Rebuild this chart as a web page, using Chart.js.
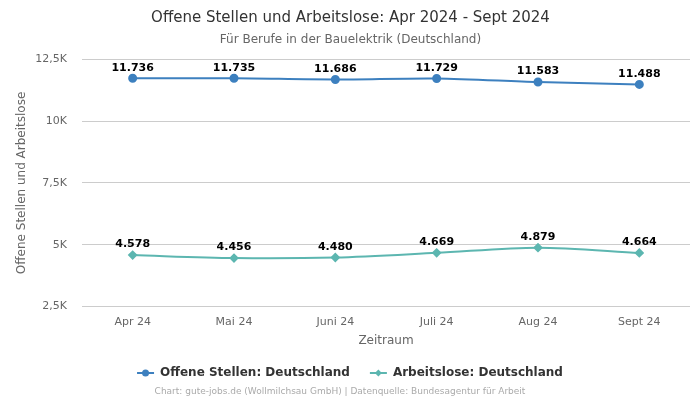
<!DOCTYPE html>
<html><head><meta charset="utf-8">
<script src="https://cdn.jsdelivr.net/npm/chart.js@4"></script>
<style>html,body{margin:0;padding:0;background:#fff}</style>
</head><body><canvas id="c" width="700" height="400"></canvas>
<script>
const categories = ["Apr 24","Mai 24","Juni 24","Juli 24","Aug 24","Sept 24"];
const offeneStellen = [11736,11735,11686,11729,11583,11488];
const arbeitslose = [4578,4456,4480,4669,4879,4664];
const yTicks = [2500,5000,7500,10000,12500];
const yTickLabels = ["2,5K","5K","7,5K","10K","12,5K"];
const seriesNames = ["Offene Stellen: Deutschland","Arbeitslose: Deutschland"];
const colors = ["#3d80bf","#5cb6b0"];
const markerStyles = ["circle","rectRot"];

const fmt = v => v.toLocaleString('de-DE');

const labelPlugin={id:'lbl',afterDatasetsDraw(chart){
  const ctx=chart.ctx;ctx.save();ctx.font='bold 11px "DejaVu Sans"';ctx.fillStyle='#000';ctx.textAlign='center';ctx.textBaseline='bottom';
  chart.data.datasets.forEach((ds,i)=>{chart.getDatasetMeta(i).data.forEach((p,j)=>{ctx.fillText(fmt(ds.data[j]),p.x,p.y-5);});});
  ctx.restore();
}};
const legendPlugin={id:'customLegend',afterDraw(chart){
  const ctx=chart.ctx;ctx.save();ctx.font='bold 12px "DejaVu Sans"';ctx.textBaseline='middle';
  const iconW=17, gap=6, itemGap=20, y=373;
  const ds=chart.data.datasets;
  const widths=ds.map(d=>iconW+gap+ctx.measureText(d.label).width);
  const total=widths.reduce((a,b)=>a+b,0)+itemGap*(ds.length-1);
  let x=(chart.width-total)/2;
  ds.forEach((d,i)=>{
    ctx.strokeStyle=d.borderColor;ctx.lineWidth=2;ctx.beginPath();ctx.moveTo(x,y);ctx.lineTo(x+iconW,y);ctx.stroke();
    ctx.fillStyle=d.borderColor;ctx.beginPath();const cx=x+iconW/2;
    if(d.pointStyle==='circle'){ctx.arc(cx,y,3.5,0,Math.PI*2);}else{ctx.moveTo(cx,y-3.5);ctx.lineTo(cx+3.5,y);ctx.lineTo(cx,y+3.5);ctx.lineTo(cx-3.5,y);ctx.closePath();}
    ctx.fill();
    ctx.fillStyle='#333';ctx.textAlign='left';ctx.fillText(d.label,x+iconW+gap,y);
    x+=widths[i]+itemGap;
  });
  ctx.font='9px "DejaVu Sans"';ctx.fillStyle='#aaa';ctx.textAlign='center';
  ctx.fillText('Chart: gute-jobs.de (Wollmilchsau GmbH) | Datenquelle: Bundesagentur für Arbeit',340,392);
  ctx.restore();
}};

new Chart(document.getElementById('c'),{
  type:'line',
  data:{labels:categories,datasets:[
    {label:seriesNames[0],data:offeneStellen,borderColor:colors[0],backgroundColor:colors[0],borderWidth:2,pointStyle:markerStyles[0],pointRadius:3.5,pointHoverRadius:3.5,tension:0.3},
    {label:seriesNames[1],data:arbeitslose,borderColor:colors[1],backgroundColor:colors[1],borderWidth:2,pointStyle:markerStyles[1],pointRadius:3.5,pointHoverRadius:3.5,tension:0.3}
  ]},
  options:{responsive:false,animation:false,devicePixelRatio:1,
    layout:{padding:{left:11,right:10,top:0,bottom:48}},
    plugins:{
      title:{display:true,text:'Offene Stellen und Arbeitslose: Apr 2024 - Sept 2024',color:'#333',font:{family:'DejaVu Sans',size:15,weight:'normal'},padding:{top:9,bottom:6}},
      subtitle:{display:true,text:'Für Berufe in der Bauelektrik (Deutschland)',color:'#666',font:{family:'DejaVu Sans',size:12},padding:{bottom:12}},
      legend:{display:false},
      tooltip:{enabled:false}
    },
    scales:{
      x:{offset:true,grid:{display:false},border:{display:false},ticks:{color:'#666',font:{family:'DejaVu Sans',size:11},padding:1,maxRotation:0},
        title:{display:true,text:'Zeitraum',color:'#666',font:{family:'DejaVu Sans',size:12},padding:{top:4,bottom:4}}},
      y:{min:2500,max:12500,afterBuildTicks(ax){ax.ticks=yTicks.map(v=>({value:v}));},
        afterFit(ax){ax.width=71;},
        grid:{color:'#ccc',drawTicks:false},border:{display:false},
        ticks:{color:'#666',font:{family:'DejaVu Sans',size:11},padding:15,callback:(v)=>yTickLabels[yTicks.indexOf(v)]},
        title:{display:true,text:'Offene Stellen und Arbeitslose',color:'#666',font:{family:'DejaVu Sans',size:12}}}
    }
  },
  plugins:[labelPlugin,legendPlugin]
});
</script></body></html>
